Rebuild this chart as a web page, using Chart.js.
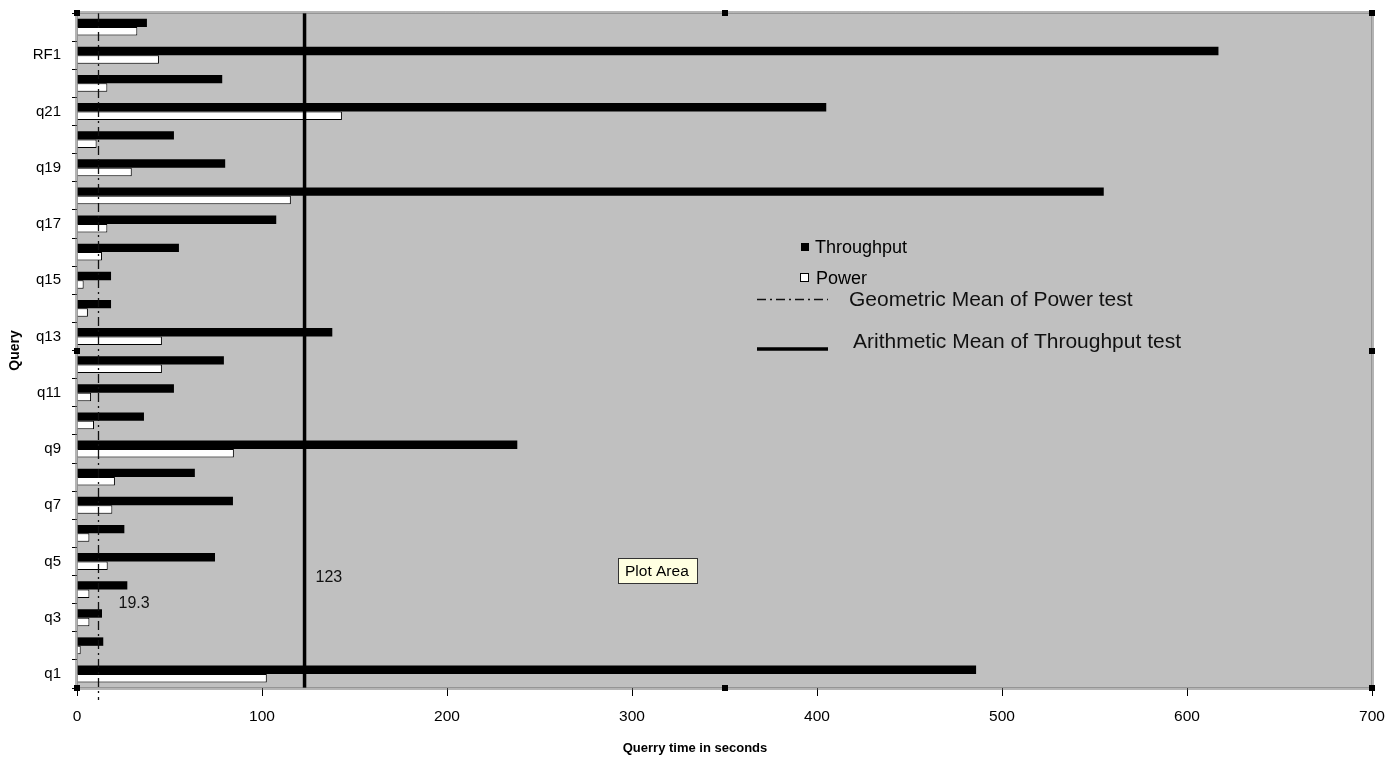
<!DOCTYPE html>
<html><head><meta charset="utf-8">
<script src="https://cdn.jsdelivr.net/npm/chart.js@4.4.1/dist/chart.umd.min.js"></script>
<style>html,body{margin:0;padding:0;background:#fff;} #wrap{width:1397px;height:759px;position:relative;}</style>
</head><body><div id="wrap"><canvas id="c" width="1397" height="759"></canvas></div>
<script>
// ---- data ----
const categories = ['q1','q2','q3','q4','q5','q6','q7','q8','q9','q10','q11','q12','q13','q14','q15','q16','q17','q18','q19','q20','q21','q22','RF1','RF2'];
const throughput = [486,14.2,13.5,27.2,74.6,25.6,84.3,63.7,238,36.2,52.4,79.4,138,18.4,18.4,55.1,107.7,555,80.1,52.4,405,78.5,617,37.8];
const power = [102.6,2.0,6.7,6.7,16.6,6.7,19.1,20.5,84.8,9.2,7.6,45.9,45.9,5.9,3.6,13.5,16.4,115.6,29.6,10.6,143.2,16.4,44.3,32.6];
const seriesNames = ['Throughput','Power'];
const xTickValues = [0,100,200,300,400,500,600,700];
const meanLineNames = ['Geometric Mean of Power test','Arithmetic Mean of Throughput test'];
const meanLineValues = [11.5, 123];
const meanLineLabels = ['19.3','123'];
const axisTitles = {x:'Querry time in seconds', y:'Query'};
const tooltipText = 'Plot Area';

const FONT = '"Liberation Sans", Arial, sans-serif';

const overlay = {
  id:'overlay',
  beforeDatasetsDraw(chart){
    const {ctx, chartArea:a} = chart;
    ctx.save();
    ctx.fillStyle = '#c0c0c0';
    ctx.fillRect(a.left, a.top, a.right-a.left, a.bottom-a.top);
    ctx.restore();
  },
  afterDatasetsDraw(chart){
    const {ctx, chartArea:a, scales:{x}} = chart;
    ctx.save();
    // geometric mean (dash-dot)
    const gx = Math.round(x.getPixelForValue(meanLineValues[0]))+0.5;
    ctx.strokeStyle = '#111'; ctx.lineWidth = 1.3;
    ctx.setLineDash([9,4,2,4]);
    ctx.beginPath(); ctx.moveTo(gx, a.top); ctx.lineTo(gx, a.bottom+12); ctx.stroke();
    // arithmetic mean (solid thick)
    const ax = x.getPixelForValue(meanLineValues[1]);
    ctx.setLineDash([]);
    ctx.strokeStyle = '#000'; ctx.lineWidth = 3.5;
    ctx.beginPath(); ctx.moveTo(ax, a.top); ctx.lineTo(ax, a.bottom); ctx.stroke();
    // labels of means
    ctx.fillStyle = '#111'; ctx.textBaseline = 'middle'; ctx.textAlign = 'left';
    ctx.font = '16px ' + FONT;
    ctx.fillText(meanLineLabels[0], gx + 20, 604);
    ctx.fillText(meanLineLabels[1], ax + 11, 578);
    // plot border (selection style)
    ctx.strokeStyle = '#6a6a6a'; ctx.lineWidth = 3; ctx.setLineDash([1,1]);
    ctx.strokeRect(a.left-0.5, a.top-0.5, a.right-a.left+1, a.bottom-a.top+1);
    ctx.setLineDash([]);
    // selection handles
    ctx.fillStyle = '#000';
    const mx = (a.left+a.right)/2, my = (a.top+a.bottom)/2;
    [[a.left,a.top],[mx,a.top],[a.right,a.top],[a.right,my],[a.right,a.bottom],[mx,a.bottom],[a.left,a.bottom],[a.left,my]].forEach(([hx,hy])=>{
      ctx.fillRect(Math.round(hx)-3, Math.round(hy)-3, 6, 6);
    });
    // legend
    const ds = chart.data.datasets;
    ctx.font = '18px ' + FONT; ctx.textBaseline = 'middle';
    ctx.fillStyle = ds[0].backgroundColor; ctx.fillRect(801, 243, 8, 8);
    ctx.fillStyle = '#000'; ctx.fillText(ds[0].label, 815, 248);
    ctx.fillStyle = ds[1].backgroundColor; ctx.fillRect(800.5, 273.5, 8, 8);
    ctx.strokeStyle = '#000'; ctx.lineWidth = 1; ctx.strokeRect(800.5, 273.5, 8, 8);
    ctx.fillStyle = '#000'; ctx.fillText(ds[1].label, 816, 279);
    ctx.strokeStyle = '#111'; ctx.lineWidth = 1.5; ctx.setLineDash([9,4,2,4]);
    ctx.beginPath(); ctx.moveTo(757, 299.5); ctx.lineTo(828, 299.5); ctx.stroke();
    ctx.setLineDash([]);
    ctx.strokeStyle = '#000'; ctx.lineWidth = 3.5;
    ctx.beginPath(); ctx.moveTo(757, 349); ctx.lineTo(828, 349); ctx.stroke();
    ctx.font = '21px ' + FONT; ctx.fillStyle = '#111';
    ctx.fillText(meanLineNames[0], 849, 300);
    ctx.fillText(meanLineNames[1], 853, 342);
    // tooltip box
    ctx.fillStyle = '#ffffe1'; ctx.fillRect(618.5, 558.5, 79, 25);
    ctx.strokeStyle = '#333'; ctx.lineWidth = 1; ctx.strokeRect(618.5, 558.5, 79, 25);
    ctx.fillStyle = '#000'; ctx.font = '15.5px ' + FONT;
    ctx.fillText(tooltipText, 625, 571.5);
    // x title
    ctx.font = 'bold 13px ' + FONT; ctx.textAlign = 'center';
    ctx.fillText(axisTitles.x, 695, 748);
    ctx.restore();
  }
};

new Chart(document.getElementById('c'), {
  type:'bar',
  data:{
    labels: categories,
    datasets:[
      {label: seriesNames[0], data: throughput, backgroundColor:'#000000', borderWidth:0, categoryPercentage:0.6, barPercentage:1.0},
      {label: seriesNames[1], data: power, backgroundColor:'#ffffff', borderColor:'#000000', borderWidth:1, categoryPercentage:0.6, barPercentage:1.0}
    ]
  },
  options:{
    indexAxis:'y',
    responsive:false,
    animation:false,
    devicePixelRatio:1,
    layout:{padding:{left:0, top:13, right:25, bottom:0}},
    plugins:{legend:{display:false}, tooltip:{enabled:false}},
    scales:{
      x:{
        min:0, max:700,
        afterBuildTicks(s){ s.ticks = xTickValues.map(v=>({value:v})); },
        afterFit(s){ s.height = 71; },
        grid:{drawOnChartArea:false, drawTicks:true, tickLength:8, color:'#000', tickWidth:1},
        border:{display:false},
        ticks:{color:'#000', font:{family:FONT, size:15.5}, padding:11, maxRotation:0}
      },
      y:{
        reverse:true,
        afterFit(s){ s.width = 77; s.paddingTop = 0; s.paddingBottom = 0; },
        grid:{drawOnChartArea:false, drawTicks:true, tickLength:5, color:'#000', offset:true},
        border:{display:false},
        ticks:{color:'#000', autoSkip:false, font:{family:FONT, size:15}, padding:11,
          callback(v,i){ return i%2===0 ? categories[i] : ''; }},
        title:{display:true, text:axisTitles.y, color:'#000', font:{family:FONT, size:14, weight:'bold'}, padding:{top:7,bottom:0}}
      }
    }
  },
  plugins:[overlay]
});
</script></body></html>
